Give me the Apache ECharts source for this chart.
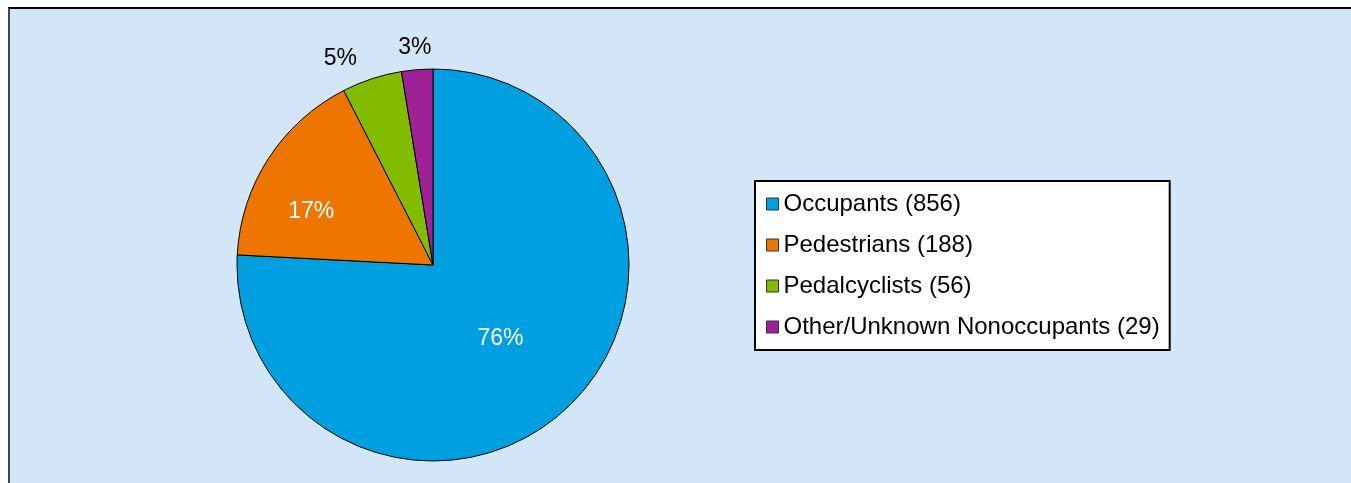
<!DOCTYPE html>
<html>
<head>
<meta charset="utf-8">
<script src="https://cdn.jsdelivr.net/npm/echarts@6/dist/echarts.min.js"></script>
<style>
  html, body { margin: 0; padding: 0; background: #fff; }
  .frame {
    position: absolute; left: 8px; top: 7px; right: 0; bottom: 0;
    background: #D2E6F7;
    border-top: 2px solid #000;
    border-left: 2px solid #444;
  }
  #chart { position: absolute; left: 0; top: 0; width: 1351px; height: 483px; }
</style>
</head>
<body>
<div class="frame"></div>
<div id="chart"></div>
<script>
// 数据
const categories = ['Occupants', 'Pedestrians', 'Pedalcyclists', 'Other/Unknown Nonoccupants']
const counts = [856, 188, 56, 29]
const colors = ['#00A0E0', '#EE7600', '#82BC00', '#9E2196']

const total = counts.reduce((a, b) => a + b, 0)

// 标签样式：大块在内部，小块在外部
const labelStyles = [
  { position: 'inside', color: '#fff', offset: [-2, 0] },
  { position: 'inside', color: '#fff', offset: [-37, 2] },
  { position: 'outside', color: '#000', offset: [-3, 1] },
  { position: 'outside', color: '#000', offset: [21, 0] }
]

const chart = echarts.init(document.getElementById('chart'))

const option = {
  backgroundColor: 'transparent',
  textStyle: { fontFamily: 'Liberation Sans, Arial, sans-serif' },
  legend: {
    orient: 'vertical',
    left: 755,
    top: 181,
    padding: [11, 10, 11, 11],
    itemGap: 17,
    itemWidth: 12,
    itemHeight: 12,
    icon: 'rect',
    backgroundColor: '#fff',
    borderColor: '#000',
    borderWidth: 2,
    borderRadius: 0,
    itemStyle: { borderColor: '#333', borderWidth: 1 },
    textStyle: { fontSize: 24, lineHeight: 24, color: '#000', fontFamily: 'Liberation Sans, Arial, sans-serif' },
    formatter: name => `${name} (${counts[categories.indexOf(name)]})`,
    data: categories
  },
  series: [
    {
      type: 'pie',
      center: [433, 265],
      radius: 196,
      startAngle: 90,
      clockwise: true,
      avoidLabelOverlap: false,
      silent: true,
      itemStyle: { borderColor: '#000', borderWidth: 1 },
      labelLine: { show: false, length: 22, length2: 0 },
      label: {
        fontSize: 23,
        fontFamily: 'Liberation Sans, Arial, sans-serif',
        distanceToLabelLine: 5,
        formatter: p => Math.round(p.value / total * 100) + '%'
      },
      data: categories.map((name, i) => ({
        name,
        value: counts[i],
        itemStyle: { color: colors[i] },
        label: labelStyles[i]
      }))
    }
  ]
}

chart.setOption(option)
</script>
</body>
</html>
